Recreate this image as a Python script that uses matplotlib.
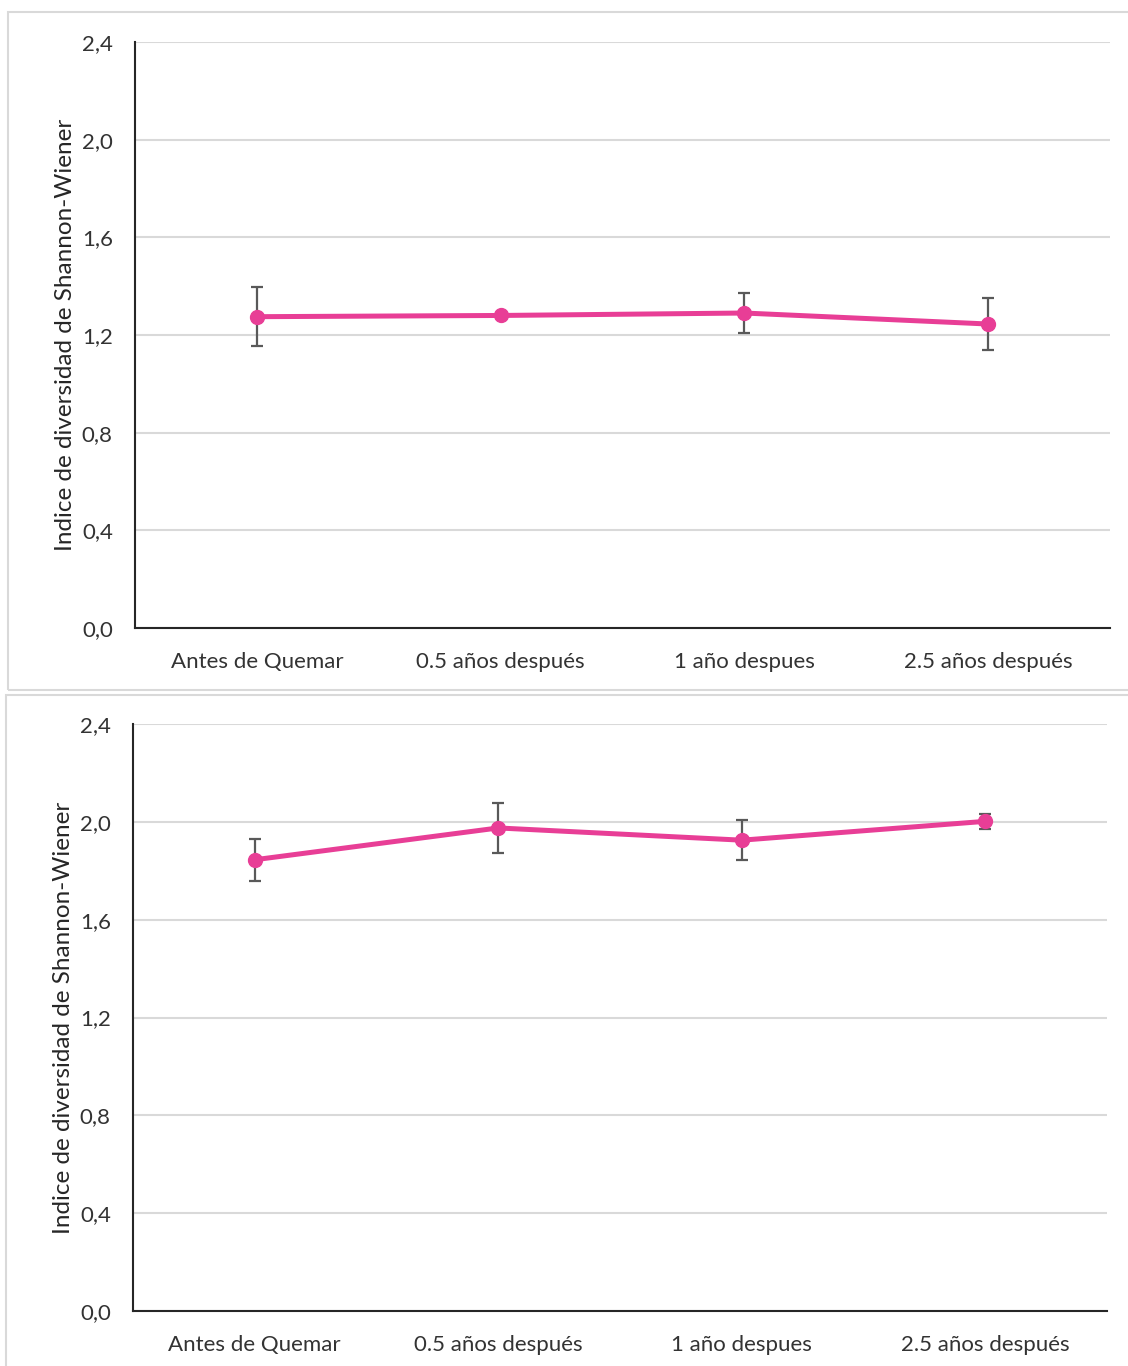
import matplotlib.pyplot as plt
from matplotlib.patches import Rectangle

plt.rcParams['font.family'] = ['Lato', 'DejaVu Sans']

categorias = ['Antes de Quemar', '0.5 años después', '1 año despues', '2.5 años después']
yticks = [0.0, 0.4, 0.8, 1.2, 1.6, 2.0, 2.4]
ytick_labels = ['0,0', '0,4', '0,8', '1,2', '1,6', '2,0', '2,4']

# panel superior
h_sup = [1.275, 1.280, 1.290, 1.245]
err_sup = [0.12, 0.0, 0.082, 0.107]
# panel inferior
h_inf = [1.845, 1.975, 1.925, 2.002]
err_inf = [0.086, 0.102, 0.082, 0.031]

rosa = '#E83E96'
gris_err = '#595959'
gris_grid = '#d9d9d9'

W, H = 1128, 1366
fig = plt.figure(figsize=(W / 100, H / 100), dpi=100)

# marcos de cada panel
fig.patches.append(Rectangle((8 / W, 1 - 690 / H), 1.2, (690 - 12) / H, transform=fig.transFigure,
                             fill=False, edgecolor=gris_grid, linewidth=1.5))
fig.patches.append(Rectangle((6 / W, -0.1), 1.2, 0.1 + 1 - 695 / H, transform=fig.transFigure,
                             fill=False, edgecolor=gris_grid, linewidth=1.5))

paneles = [
    ([135 / W, 1 - 628 / H, (1110 - 135) / W, (628 - 42) / H], h_sup, err_sup),
    ([133 / W, 1 - 1311 / H, (1107 - 133) / W, (1311 - 724) / H], h_inf, err_inf),
]

for rect, vals, errs in paneles:
    ax = fig.add_axes(rect)
    x = list(range(len(categorias)))
    ax.errorbar(x, vals, yerr=errs, fmt='none', ecolor=gris_err, elinewidth=1.6,
                capsize=4.5, capthick=1.6, zorder=2)
    ax.plot(x, vals, color=rosa, linewidth=3.6, marker='o', markersize=10, zorder=3)
    ax.set_xlim(-0.5, 3.5)
    ax.set_ylim(0, 2.4)
    ax.set_yticks(yticks)
    ax.set_yticklabels(ytick_labels)
    ax.set_xticks(x)
    ax.set_xticklabels(categorias)
    ax.tick_params(axis='both', length=0, labelsize=16, colors='#333333')
    ax.tick_params(axis='y', pad=16)
    ax.tick_params(axis='x', pad=17)
    ax.grid(axis='y', color=gris_grid, linewidth=1.5)
    ax.set_axisbelow(True)
    for s in ['top', 'right']:
        ax.spines[s].set_visible(False)
    for s in ['left', 'bottom']:
        ax.spines[s].set_color('#262626')
        ax.spines[s].set_linewidth(1.5)
    ax.set_ylabel('Indice de diversidad de Shannon-Wiener', fontsize=17.5, color='#262626')
    ax.yaxis.set_label_coords(-0.0605, 0.5)

fig.savefig('out.png', dpi=100)
